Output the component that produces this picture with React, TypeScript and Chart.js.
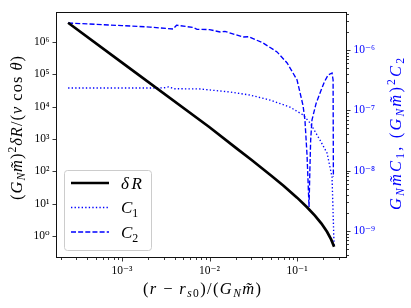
import React, { useEffect, useRef } from 'react';
import { Chart, registerables } from 'chart.js';
Chart.register(...registerables);

// ---- data ----
const xTickValues = [1e-3, 1e-2, 1e-1];
const yLeftTickValues = [1, 10, 100, 1e3, 1e4, 1e5, 1e6];
const yRightTickValues = [1e-9, 1e-8, 1e-7, 1e-6];

const dRx = [2.42e-4, 1e-3, 1e-2, 2e-2, 3e-2, 5e-2, 7e-2, 0.1, 0.13, 0.16, 0.19, 0.22, 0.245, 0.265];
const dRy = [3.9e6, 2.3e5, 2300, 531, 228, 76, 35.9, 15.4, 7.8, 4.3, 2.43, 1.36, 0.79, 0.47];

const c1x = [2.42e-4, 1e-3, 2.09e-3, 3.0e-3, 3.4e-3, 4.0e-3, 7.8e-3, 1.71e-2, 2.9e-2, 4.91e-2, 8.3e-2, 0.117, 0.141, 0.183, 0.22, 0.251, 0.265];
const c1y = [2.34e-7, 2.34e-7, 2.34e-7, 2.36e-7, 2.44e-7, 2.28e-7, 2.26e-7, 2.01e-7, 1.79e-7, 1.48e-7, 1.13e-7, 8.4e-8, 6.15e-8, 3.2e-8, 1.96e-8, 7.8e-9, 5.4e-10];

const c2x = [2.42e-4, 1e-3, 2.09e-3, 3.83e-3, 4.2e-3, 6.5e-3, 7.2e-3, 1.0e-2, 1.32e-2, 1.5e-2, 2.41e-2, 2.8e-2, 4.08e-2, 5.9e-2, 7.7e-2, 0.1, 0.117, 0.123, 0.13, 0.134, 0.137, 0.14, 0.143, 0.148, 0.165, 0.183, 0.205, 0.226, 0.251, 0.258, 0.26];
const c2y = [2.81e-6, 2.54e-6, 2.4e-6, 2.23e-6, 2.58e-6, 2.36e-6, 2.2e-6, 2.18e-6, 1.99e-6, 2.04e-6, 1.64e-6, 1.66e-6, 1.31e-6, 9.3e-7, 6.1e-7, 3.18e-7, 1.2e-7, 6.9e-8, 1.8e-8, 5.8e-9, 2.5e-9, 1.0e-8, 3.2e-8, 6.9e-8, 1.3e-7, 1.94e-7, 2.95e-7, 3.85e-7, 4.16e-7, 3.18e-7, 7.8e-9];

const xRange = [1.76e-4, 0.372];
const yLeftRange = [0.21, 8.4e6];
const yRightRange = [3.55e-10, 4.27e-6];

const BLUE = '#0000ff';
const FONT = '"Liberation Serif", "DejaVu Serif", serif';

type Seg = { t: string; i?: boolean; s?: 'sub' | 'sup' };

const SUP: Record<string, string> = { '-': '\u207B', '0': '\u2070', '1': '\u00B9', '2': '\u00B2', '3': '\u00B3', '4': '\u2074', '5': '\u2075', '6': '\u2076', '7': '\u2077', '8': '\u2078', '9': '\u2079' };
function pow10Label(v: number): string {
  const e = Math.round(Math.log10(v));
  return '10' + String(e).split('').map((c) => SUP[c] || c).join('');
}

function splitGraphemes(t: string): string[] {
  const out: string[] = [];
  Array.from(t).forEach((c) => {
    const code = c.codePointAt(0) || 0;
    if (code >= 0x300 && code <= 0x36f && out.length) out[out.length - 1] += c;
    else out.push(c);
  });
  return out;
}

function drawRich(ctx: CanvasRenderingContext2D, segs: Seg[], x: number, y: number, rot: number, color: string, size: number, align: 'center' | 'left' = 'center', target = 0) {
  ctx.save();
  ctx.translate(x, y);
  ctx.rotate(rot);
  ctx.fillStyle = color;
  ctx.textBaseline = 'alphabetic';
  ctx.textAlign = 'left';
  const fontFor = (s: Seg) => `${s.i ? 'italic ' : ''}${s.s ? size * 0.7 : size}px ${FONT}`;
  const chars: { c: string; seg: Seg; w: number }[] = [];
  segs.forEach((s) => {
    ctx.font = fontFor(s);
    splitGraphemes(s.t).forEach((c) => {
      chars.push({ c, seg: s, w: ctx.measureText(c).width });
    });
  });
  const natural = chars.reduce((a, b) => a + b.w, 0);
  const extra = target > natural && chars.length > 1 ? (target - natural) / (chars.length - 1) : 0;
  const total = natural + extra * (chars.length - 1);
  let cx = align === 'center' ? -total / 2 : 0;
  chars.forEach((ch) => {
    ctx.font = fontFor(ch.seg);
    const s = ch.seg;
    const dy = s.s === 'sub' ? size * 0.22 : s.s === 'sup' ? -size * 0.38 : 0;
    ctx.fillText(ch.c, cx, size * 0.35 + dy);
    cx += ch.w + extra;
  });
  ctx.restore();
}

const leftTitle: Seg[] = [
  { t: '(' }, { t: 'G', i: true }, { t: 'N', i: true, s: 'sub' }, { t: 'm\u0303', i: true }, { t: ')' }, { t: '2', s: 'sup' },
  { t: '\u03B4R', i: true }, { t: '/(' }, { t: 'v', i: true }, { t: ' cos ' }, { t: '\u03B8', i: true }, { t: ')' },
];
const rightTitle: Seg[] = [
  { t: 'G', i: true }, { t: 'N', i: true, s: 'sub' }, { t: 'm\u0303', i: true }, { t: 'C', i: true }, { t: '1', s: 'sub' }, { t: ', (' },
  { t: 'G', i: true }, { t: 'N', i: true, s: 'sub' }, { t: 'm\u0303', i: true }, { t: ')' }, { t: '2', s: 'sup' }, { t: 'C', i: true }, { t: '2', s: 'sub' },
];
const bottomTitle: Seg[] = [
  { t: '(' }, { t: 'r', i: true }, { t: ' \u2212 ' }, { t: 'r', i: true }, { t: 's', i: true, s: 'sub' }, { t: '0', s: 'sub' }, { t: ')/(' },
  { t: 'G', i: true }, { t: 'N', i: true, s: 'sub' }, { t: 'm\u0303', i: true }, { t: ')' },
];
const legendItems: { segs: Seg[]; color: string; width: number; dash: number[] }[] = [
  { segs: [{ t: '\u03B4R', i: true }], color: '#000000', width: 2.7, dash: [] },
  { segs: [{ t: 'C', i: true }, { t: '1', s: 'sub' }], color: BLUE, width: 1.35, dash: [1.35, 2.2] },
  { segs: [{ t: 'C', i: true }, { t: '2', s: 'sub' }], color: BLUE, width: 1.35, dash: [5, 2.15] },
];

function decadeTicks(values: number[]) {
  return (scale: any) => {
    scale.ticks = values.map((v) => ({ value: v }));
  };
}

const decorPlugin = {
  id: 'decor',
  afterDraw(chart: any) {
    const ctx: CanvasRenderingContext2D = chart.ctx;
    const { left, right, top, bottom } = chart.chartArea;
    const xs = chart.scales.x;
    const yl = chart.scales.y;
    const yr = chart.scales.y2;
    ctx.save();
    ctx.strokeStyle = '#222';
    ctx.lineWidth = 0.9;
    for (let n = -5; n <= 0; n++) {
      for (let k = 1; k <= 9; k++) {
        const v = k * Math.pow(10, n);
        if (v < xRange[0] || v > xRange[1]) continue;
        const px = Math.round(xs.getPixelForValue(v)) + 0.5;
        ctx.beginPath();
        ctx.moveTo(px, bottom);
        ctx.lineTo(px, bottom + (k === 1 ? 3.5 : 2));
        ctx.stroke();
      }
    }
    yLeftTickValues.forEach((v) => {
      const py = Math.round(yl.getPixelForValue(v)) + 0.5;
      ctx.beginPath();
      ctx.moveTo(left, py);
      ctx.lineTo(left - 3.5, py);
      ctx.stroke();
    });
    for (let n = -11; n <= -5; n++) {
      for (let k = 1; k <= 9; k++) {
        const v = k * Math.pow(10, n);
        if (v < yRightRange[0] || v > yRightRange[1]) continue;
        const py = Math.round(yr.getPixelForValue(v)) + 0.5;
        ctx.beginPath();
        ctx.moveTo(right, py);
        ctx.lineTo(right + (k === 1 ? 3.5 : 2), py);
        ctx.stroke();
      }
    }
    ctx.strokeStyle = '#111';
    ctx.lineWidth = 1;
    ctx.strokeRect(Math.round(left) + 0.5, Math.round(top) + 0.5, Math.round(right - left) - 1, Math.round(bottom - top) - 1);

    const lx = 64.5, ly = 170.5, lw = 87, lh = 80;
    ctx.beginPath();
    ctx.roundRect(lx, ly, lw, lh, 3);
    ctx.fillStyle = 'rgba(255,255,255,0.8)';
    ctx.fill();
    ctx.strokeStyle = '#cccccc';
    ctx.lineWidth = 1;
    ctx.stroke();
    legendItems.forEach((it, idx) => {
      const yy = 183 + idx * 24.5;
      ctx.beginPath();
      ctx.strokeStyle = it.color;
      ctx.lineWidth = it.width;
      ctx.setLineDash(it.dash);
      ctx.lineCap = 'butt';
      ctx.moveTo(71, yy);
      ctx.lineTo(109, yy);
      ctx.stroke();
      ctx.setLineDash([]);
      drawRich(ctx, it.segs, 121, yy, 0, '#000', 17, 'left', idx === 0 ? 21 : 0);
    });

    drawRich(ctx, leftTitle, 16, 128, -Math.PI / 2, '#000', 16.5, 'center', 144);
    drawRich(ctx, rightTitle, 395, 134, -Math.PI / 2, BLUE, 16.5, 'center', 152);
    drawRich(ctx, bottomTitle, 202, 288, 0, '#000', 16.5, 'center', 118);
    ctx.restore();
  },
};

function makePoints(xs: number[], ys: number[]) {
  return xs.map((x, i) => ({ x, y: ys[i] }));
}

export default function App() {
  const ref = useRef<HTMLCanvasElement | null>(null);
  useEffect(() => {
    if (!ref.current) return;
    const tickFont = { family: FONT, size: 11.5 };
    const chart = new Chart(ref.current, {
      type: 'line',
      data: {
        datasets: [
          { label: 'δR', data: makePoints(dRx, dRy), borderColor: '#000', borderWidth: 2.7, pointRadius: 0, yAxisID: 'y', tension: 0, fill: false },
          { label: 'C1', data: makePoints(c1x, c1y), borderColor: BLUE, borderWidth: 1.35, borderDash: [1.35, 2.2], pointRadius: 0, yAxisID: 'y2', tension: 0, fill: false },
          { label: 'C2', data: makePoints(c2x, c2y), borderColor: BLUE, borderWidth: 1.35, borderDash: [5, 2.15], pointRadius: 0, yAxisID: 'y2', tension: 0, fill: false },
        ],
      },
      options: {
        animation: false,
        responsive: false,
        maintainAspectRatio: false,
        devicePixelRatio: 1,
        layout: { padding: { top: 12, left: 0, right: 0, bottom: 0 } },
        plugins: { legend: { display: false }, tooltip: { enabled: false } },
        scales: {
          x: {
            type: 'logarithmic',
            min: xRange[0],
            max: xRange[1],
            afterBuildTicks: decadeTicks(xTickValues),
            afterFit: (s: any) => { s.height = 50; },
            grid: { display: false, drawTicks: true, tickLength: 3.5 },
            border: { display: false },
            ticks: { autoSkip: false, maxRotation: 0, padding: 3, color: '#000', font: tickFont, callback: (v: any) => pow10Label(Number(v)) },
          },
          y: {
            type: 'logarithmic',
            position: 'left',
            min: yLeftRange[0],
            max: yLeftRange[1],
            afterBuildTicks: decadeTicks(yLeftTickValues),
            afterFit: (s: any) => { s.width = 56; },
            grid: { display: false, drawTicks: true, tickLength: 3.5 },
            border: { display: false },
            ticks: { autoSkip: false, padding: 3, color: '#000', font: tickFont, callback: (v: any) => pow10Label(Number(v)) },
          },
          y2: {
            type: 'logarithmic',
            position: 'right',
            min: yRightRange[0],
            max: yRightRange[1],
            afterBuildTicks: decadeTicks(yRightTickValues),
            afterFit: (s: any) => { s.width = 64; },
            grid: { display: false, drawTicks: true, tickLength: 3.5 },
            border: { display: false },
            ticks: { autoSkip: false, padding: 3, color: BLUE, font: tickFont, callback: (v: any) => pow10Label(Number(v)) },
          },
        },
      },
      plugins: [decorPlugin],
    } as any);
    return () => chart.destroy();
  }, []);
  return (
    <div style={{ position: 'absolute', left: 0, top: 0, width: 411, height: 308, background: '#fff' }}>
      <canvas ref={ref} width={411} height={308} />
    </div>
  );
}
